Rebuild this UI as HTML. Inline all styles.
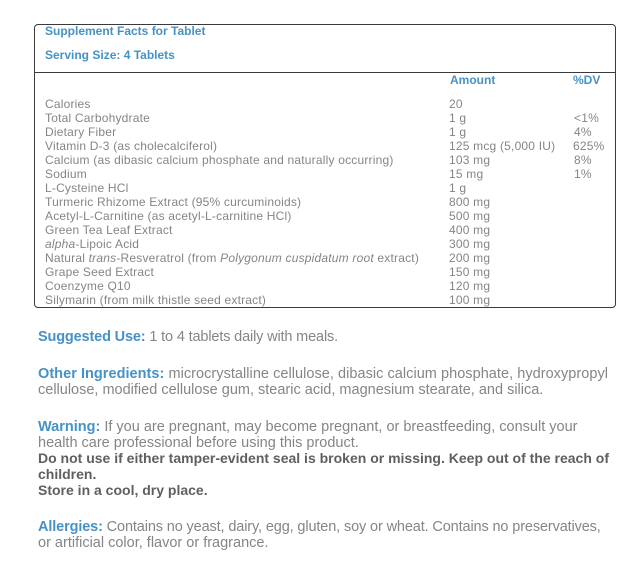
<!DOCTYPE html>
<html>
<head>
<meta charset="utf-8">
<style>
  html,body{margin:0;padding:0;background:#fff;}
  body{width:639px;height:563px;position:relative;overflow:hidden;font-family:"Liberation Sans",Arial,sans-serif;}
  .box{position:absolute;left:34px;top:24px;width:580px;height:282px;border:1px solid #3a3a3a;border-radius:4px;}
  .div{position:absolute;left:34px;top:72px;width:582px;height:1px;background:#3a3a3a;}
  .t{position:absolute;white-space:nowrap;}
  .h{font-size:12px;line-height:14px;font-weight:bold;color:#4592c6;}
  .r{font-size:12px;line-height:14px;color:#858585;letter-spacing:0.2px;}
  .l{font-size:14.5px;line-height:16px;color:#858585;left:38px;}
  .l b.bl{color:#4592c6;font-weight:bold;font-size:14.5px;}
  .bd{font-size:14px;line-height:16px;color:#5f5f5f;font-weight:bold;left:38px;}
</style>
</head>
<body>
<div class="box"></div>
<div class="div"></div>

<div class="t h" style="left:45px;top:24px;">Supplement Facts for Tablet</div>
<div class="t h" style="left:45px;top:48px;">Serving Size: 4 Tablets</div>
<div class="t h" style="left:450px;top:73px;">Amount</div>
<div class="t h" style="left:573px;top:73px;">%DV</div>

<div class="t r" style="left:45px;top:97px;">Calories</div>
<div class="t r" style="left:45px;top:111px;">Total Carbohydrate</div>
<div class="t r" style="left:45px;top:125px;">Dietary Fiber</div>
<div class="t r" style="left:45px;top:139px;">Vitamin D-3 (as cholecalciferol)</div>
<div class="t r" style="left:45px;top:153px;">Calcium (as dibasic calcium phosphate and naturally occurring)</div>
<div class="t r" style="left:45px;top:167px;">Sodium</div>
<div class="t r" style="left:45px;top:181px;">L-Cysteine HCl</div>
<div class="t r" style="left:45px;top:195px;">Turmeric Rhizome Extract (95% curcuminoids)</div>
<div class="t r" style="left:45px;top:209px;">Acetyl-L-Carnitine (as acetyl-L-carnitine HCl)</div>
<div class="t r" style="left:45px;top:223px;">Green Tea Leaf Extract</div>
<div class="t r" style="left:45px;top:237px;"><i>alpha</i>-Lipoic Acid</div>
<div class="t r" style="left:45px;top:251px;">Natural <i>trans</i>-Resveratrol (from <i>Polygonum cuspidatum root</i> extract)</div>
<div class="t r" style="left:45px;top:265px;">Grape Seed Extract</div>
<div class="t r" style="left:45px;top:279px;">Coenzyme Q10</div>
<div class="t r" style="left:45px;top:293px;">Silymarin (from milk thistle seed extract)</div>

<div class="t r" style="left:449px;top:97px;">20</div>
<div class="t r" style="left:449px;top:111px;">1 g</div>
<div class="t r" style="left:449px;top:125px;">1 g</div>
<div class="t r" style="left:449px;top:139px;">125 mcg (5,000 IU)</div>
<div class="t r" style="left:449px;top:153px;">103 mg</div>
<div class="t r" style="left:449px;top:167px;">15 mg</div>
<div class="t r" style="left:449px;top:181px;">1 g</div>
<div class="t r" style="left:449px;top:195px;">800 mg</div>
<div class="t r" style="left:449px;top:209px;">500 mg</div>
<div class="t r" style="left:449px;top:223px;">400 mg</div>
<div class="t r" style="left:449px;top:237px;">300 mg</div>
<div class="t r" style="left:449px;top:251px;">200 mg</div>
<div class="t r" style="left:449px;top:265px;">150 mg</div>
<div class="t r" style="left:449px;top:279px;">120 mg</div>
<div class="t r" style="left:449px;top:293px;">100 mg</div>

<div class="t r" style="left:574px;top:111px;">&lt;1%</div>
<div class="t r" style="left:574px;top:125px;">4%</div>
<div class="t r" style="left:573px;top:139px;">625%</div>
<div class="t r" style="left:574px;top:153px;">8%</div>
<div class="t r" style="left:574px;top:167px;">1%</div>

<div class="t l" style="top:329px;letter-spacing:-0.15px;"><b class="bl">Suggested Use:</b> 1 to 4 tablets daily with meals.</div>

<div class="t l" style="top:366px;letter-spacing:0.04px;"><b class="bl">Other Ingredients:</b> microcrystalline cellulose, dibasic calcium phosphate, hydroxypropyl</div>
<div class="t l" style="top:382px;">cellulose, modified cellulose gum, stearic acid, magnesium stearate, and silica.</div>

<div class="t l" style="top:419px;"><b class="bl">Warning:</b> If you are pregnant, may become pregnant, or breastfeeding, consult your</div>
<div class="t l" style="top:434.5px;">health care professional before using this product.</div>
<div class="t bd" style="top:450px;">Do not use if either tamper-evident seal is broken or missing. Keep out of the reach of</div>
<div class="t bd" style="top:466px;">children.</div>
<div class="t bd" style="top:482px;">Store in a cool, dry place.</div>

<div class="t l" style="top:519px;letter-spacing:-0.13px;"><b class="bl">Allergies:</b> Contains no yeast, dairy, egg, gluten, soy or wheat. Contains no preservatives,</div>
<div class="t l" style="top:535px;">or artificial color, flavor or fragrance.</div>
</body>
</html>
